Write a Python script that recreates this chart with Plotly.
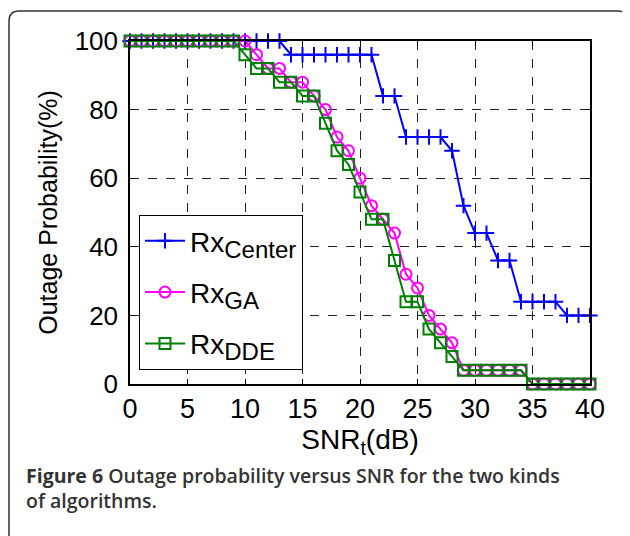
import plotly.graph_objects as go

snr = list(range(0, 41))
rx_center = [100]*14 + [96]*8 + [84]*2 + [72]*4 + [68, 52, 44, 44, 36, 36, 24, 24, 24, 24, 20, 20, 20]
rx_ga = [100]*11 + [96, 92, 92, 88, 88, 84, 80, 72, 68, 60, 52, 48, 44, 32, 28, 20, 16, 12] + [4]*6 + [0]*6
rx_dde = [100]*10 + [96, 92, 92, 88, 88, 84, 84, 76, 68, 64, 56, 48, 48, 36, 24, 24, 16, 12, 8] + [4]*6 + [0]*6

x_ticks = [0, 5, 10, 15, 20, 25, 30, 35, 40]
y_ticks = [0, 20, 40, 60, 80, 100]

# page body has an 8px margin: work in reference pixel coords and shift
OFF = 8
W, H = 630 - OFF, 536 - OFF
L, R, T, B = 130 - OFF, 590 - OFF, 41 - OFF, 384 - OFF

def xp(px):
    return (px - OFF - L) / (R - L)

def yp(py):
    return (B - (py - OFF)) / (B - T)

FONT = "Liberation Sans, Arial, sans-serif"
CAP_FONT = "Open Sans, Noto Sans, sans-serif"
SUB = "<sub><span style='font-size:24px'>{}</span></sub>"

fig = go.Figure()
fig.add_trace(go.Scatter(
    x=snr, y=rx_center, mode="lines+markers",
    name="Rx" + SUB.format("Center"), legendgroup="c",
    line=dict(color="#0000FF", width=2),
    marker=dict(symbol="cross-thin", size=11, line=dict(color="#0000FF", width=2)),
    cliponaxis=False))
fig.add_trace(go.Scatter(
    x=snr, y=rx_ga, mode="lines+markers",
    name="Rx" + SUB.format("GA"), legendgroup="g",
    line=dict(color="#FF00FF", width=2),
    marker=dict(symbol="circle-open", size=11, color="#FF00FF", line=dict(color="#FF00FF", width=2)),
    cliponaxis=False))
fig.add_trace(go.Scatter(
    x=snr, y=rx_dde, mode="lines+markers",
    name="Rx" + SUB.format("DDE"), legendgroup="d",
    line=dict(color="#008000", width=2),
    marker=dict(symbol="square-open", size=11, color="#008000", line=dict(color="#008000", width=2)),
    cliponaxis=False))

axis_common = dict(
    showline=True, linecolor="black", linewidth=1.5, mirror="ticks",
    ticks="inside", ticklen=5, tickcolor="black", tickwidth=1,
    showgrid=True, gridcolor="#222222", griddash="dash", gridwidth=1,
    zeroline=False,
)

fig.update_xaxes(range=[0, 40], tickvals=x_ticks, ticktext=[str(v) for v in x_ticks],
                 tickfont=dict(family=FONT, size=27, color="black"),
                 title=dict(text="SNR<sub>t</sub>(dB)", font=dict(family=FONT, size=28, color="black"), standoff=0),
                 ticklabelstandoff=0, **axis_common)
fig.update_yaxes(range=[0, 100], tickvals=y_ticks, ticktext=[str(v) for v in y_ticks],
                 tickfont=dict(family=FONT, size=26, color="black"),
                 title=dict(text="Outage Probability(%)", font=dict(family=FONT, size=25, color="black"), standoff=10),
                 ticklabelstandoff=5, **axis_common)

# rounded outer frame
r = 10
xl, xr, yt, yb = 9, 628, 11, 560
path = (f"M {xp(xl)},{yp(yb)} L {xp(xl)},{yp(yt + r)} Q {xp(xl)},{yp(yt)} {xp(xl + r)},{yp(yt)} "
        f"L {xp(xr - r)},{yp(yt)} Q {xp(xr)},{yp(yt)} {xp(xr)},{yp(yt + r)} L {xp(xr)},{yp(yb)}")
fig.add_shape(type="path", path=path, xref="paper", yref="paper",
              line=dict(color="#333333", width=1.5), layer="below")

fig.add_annotation(x=xp(24), y=yp(460), xref="paper", yref="paper", xanchor="left", yanchor="top",
                   text="<b>Figure 6</b> Outage probability versus SNR for the two kinds",
                   showarrow=False, font=dict(family=CAP_FONT, size=19.5, color="#333333", weight=600))
fig.add_annotation(x=xp(24), y=yp(485), xref="paper", yref="paper", xanchor="left", yanchor="top",
                   text="of algorithms.",
                   showarrow=False, font=dict(family=CAP_FONT, size=19.5, color="#333333", weight=600))

fig.update_layout(
    width=W, height=H, autosize=False,
    margin=dict(l=L, r=W - R, t=T, b=H - B),
    paper_bgcolor="white", plot_bgcolor="white",
    showlegend=True,
    legend=dict(x=xp(139), y=yp(215), xanchor="left", yanchor="top",
                bgcolor="white", bordercolor="black", borderwidth=1,
                font=dict(family=FONT, size=28, color="black"),
                itemwidth=40, tracegroupgap=12),
)

fig.write_html("out.html")
